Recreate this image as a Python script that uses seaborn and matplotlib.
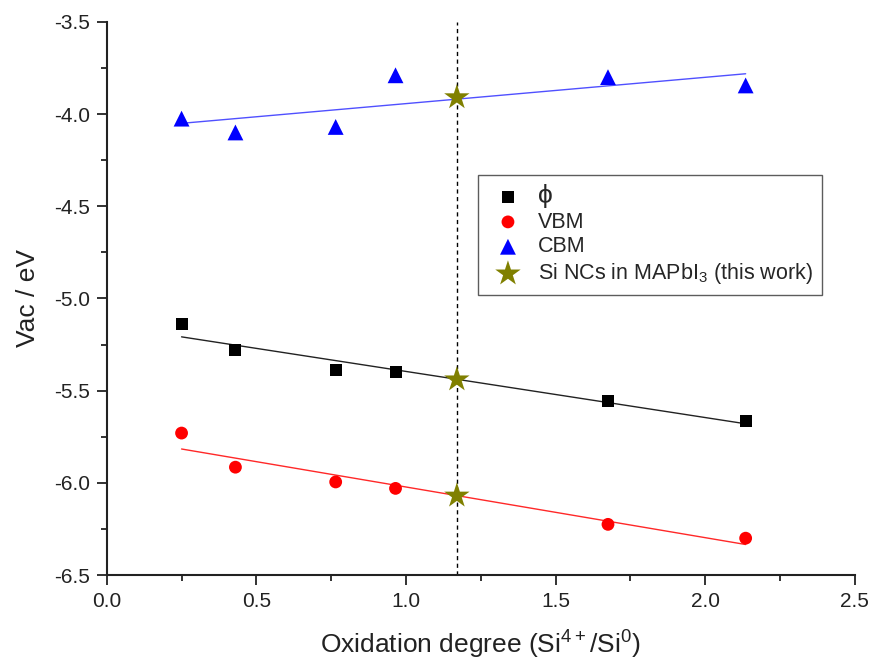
import numpy as np
import pandas as pd
import seaborn as sns
import matplotlib.pyplot as plt

# data
oxidation = [0.25, 0.43, 0.765, 0.965, 1.675, 2.135]
phi_vals = [-5.14, -5.28, -5.39, -5.40, -5.555, -5.665]
vbm_vals = [-5.73, -5.915, -5.995, -6.03, -6.225, -6.30]
cbm_vals = [-4.025, -4.10, -4.07, -3.79, -3.80, -3.845]

star_x = [1.17, 1.17, 1.17]
star_y = [-3.91, -5.44, -6.07]

x_ticks = [0.0, 0.5, 1.0, 1.5, 2.0, 2.5]
y_ticks = [-6.5, -6.0, -5.5, -5.0, -4.5, -4.0, -3.5]

sns.set_theme(style="ticks")
plt.rcParams['font.family'] = ['Liberation Sans', 'DejaVu Sans']
plt.rcParams['mathtext.default'] = 'regular'
plt.rcParams['axes.unicode_minus'] = False

df = pd.DataFrame({"x": oxidation, "phi": phi_vals, "vbm": vbm_vals, "cbm": cbm_vals})

fig = plt.figure(figsize=(8.75, 6.61), dpi=100)
ax = fig.add_axes([0.122, 0.130, 0.855, 0.837])

# linear fits
xfit = np.array([min(oxidation), max(oxidation)])
for col, c in [("phi", "#222222"), ("vbm", "#ff2828"), ("cbm", "#5050ff")]:
    k, b = np.polyfit(df["x"], df[col], 1)
    sns.lineplot(x=xfit, y=k * xfit + b, color=c, lw=1.0, ax=ax)

ax.axvline(1.17, color="black", lw=1.0, ls=(0, (3, 2.5)), zorder=1)

sns.scatterplot(data=df, x="x", y="phi", marker="s", s=75, color="black",
                edgecolor="none", label="ϕ", ax=ax, zorder=3)
sns.scatterplot(data=df, x="x", y="vbm", marker="o", s=85, color="red",
                edgecolor="none", label="VBM", ax=ax, zorder=3)
sns.scatterplot(data=df, x="x", y="cbm", marker="^", s=130, color="blue",
                edgecolor="none", label="CBM", ax=ax, zorder=3)
sns.scatterplot(x=star_x, y=star_y, marker="*", s=370, color="#808000",
                edgecolor="none", label="Si NCs in MAPbI$_3$ (this work)", ax=ax, zorder=4)

ax.set_xlim(0, 2.5)
ax.set_ylim(-6.5, -3.5)
ax.set_xticks(x_ticks)
ax.set_xticklabels([f"{v:.1f}" for v in x_ticks])
ax.set_yticks(y_ticks)
ax.set_yticklabels([f"{v:.1f}" for v in y_ticks])
ax.set_xticks(np.arange(0.25, 2.5, 0.5), minor=True)
ax.set_yticks(np.arange(-6.25, -3.5, 0.5), minor=True)
ax.tick_params(which="major", direction="out", length=7, width=1.3, pad=5,
               labelsize=15, colors="#222222")
ax.tick_params(which="minor", direction="out", length=4, width=1.3, colors="#222222")

sns.despine(ax=ax)
for s in ["left", "bottom"]:
    ax.spines[s].set_linewidth(1.5)
    ax.spines[s].set_color("#222222")

ax.set_xlabel("Oxidation degree (Si$^{4+}$/Si$^0$)", fontsize=19, labelpad=13, color="#222222")
ax.set_ylabel("Vac / eV", fontsize=19, labelpad=10, color="#222222")

leg = ax.legend(loc="upper left", bbox_to_anchor=(0.496, 0.723), fontsize=15.5,
                frameon=True, fancybox=False, edgecolor="#333333", borderaxespad=0,
                handletextpad=0.4, borderpad=0.4, labelspacing=0.18)
leg.get_frame().set_linewidth(1.0)
leg.get_texts()[0].set_fontsize(19)

plt.savefig("out.png", dpi=100)
